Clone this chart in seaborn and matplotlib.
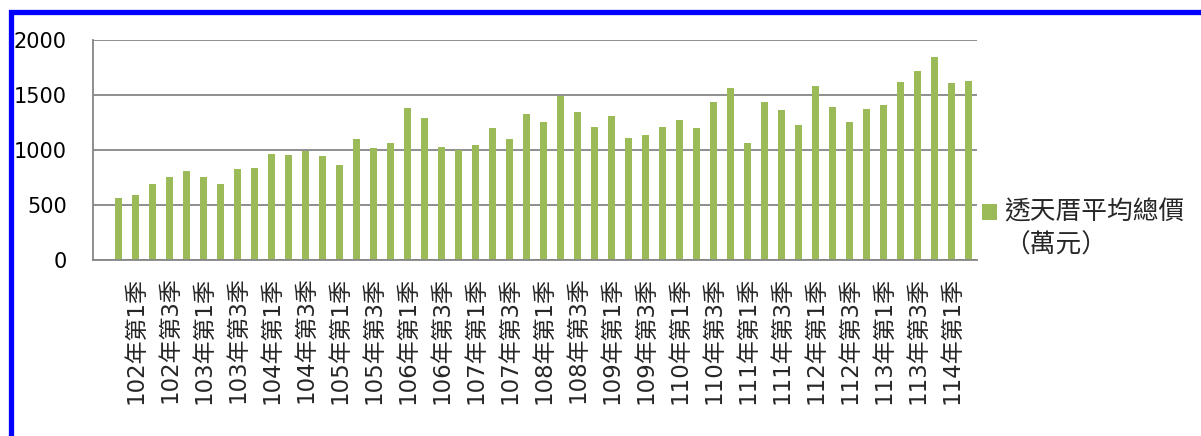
import numpy as np
import pandas as pd
import matplotlib
matplotlib.use("Agg")
import matplotlib.pyplot as plt
import seaborn as sns
from matplotlib.lines import Line2D
from matplotlib.patches import Rectangle
from matplotlib.legend_handler import HandlerPatch

# ---------------- data ----------------
quarters = [
    "101年第4季",
    "102年第1季", "102年第2季", "102年第3季", "102年第4季",
    "103年第1季", "103年第2季", "103年第3季", "103年第4季",
    "104年第1季", "104年第2季", "104年第3季", "104年第4季",
    "105年第1季", "105年第2季", "105年第3季", "105年第4季",
    "106年第1季", "106年第2季", "106年第3季", "106年第4季",
    "107年第1季", "107年第2季", "107年第3季", "107年第4季",
    "108年第1季", "108年第2季", "108年第3季", "108年第4季",
    "109年第1季", "109年第2季", "109年第3季", "109年第4季",
    "110年第1季", "110年第2季", "110年第3季", "110年第4季",
    "111年第1季", "111年第2季", "111年第3季", "111年第4季",
    "112年第1季", "112年第2季", "112年第3季", "112年第4季",
    "113年第1季", "113年第2季", "113年第3季", "113年第4季",
    "114年第1季", "114年第2季",
]
avg_price = [
    561, 588, 694, 755, 809, 755, 694, 827, 836, 961,
    955, 988, 945, 864, 1103, 1018, 1067, 1382, 1294, 1024,
    1003, 1042, 1200, 1103, 1330, 1255, 1488, 1342, 1206, 1309,
    1109, 1133, 1209, 1273, 1200, 1433, 1564, 1061, 1439, 1364,
    1224, 1582, 1388, 1258, 1373, 1409, 1615, 1721, 1848, 1606, 1630,
]
category_order = [""] + quarters          # first slot is empty on the axis
y_ticks = [0, 500, 1000, 1500, 2000]
series_name = "透天厝平均總價\n（萬元）"

# ---------------- style ----------------
sns.set_style("white")
plt.rcParams["font.family"] = ["DejaVu Sans", "Noto Sans CJK TC"]

W, H = 1201, 436
fig = plt.figure(figsize=(W / 100, H / 100), dpi=100)
fig.patch.set_facecolor("white")

left, right, top, bottom = 93, 977, 40, 260
ax = fig.add_axes([left / W, (H - bottom) / H, (right - left) / W, (bottom - top) / H])

df = pd.DataFrame({"quarter": quarters, "value": avg_price})
bar_color = "#9BBB59"
grey = "#868686"

sns.barplot(data=df, x="quarter", y="value", order=category_order,
            color=bar_color, saturation=1, width=0.42, linewidth=0, ax=ax)

ax.set_xlim(-0.5, len(category_order) - 0.5)
ax.set_ylim(0, 2000)
ax.set_xlabel("")
ax.set_ylabel("")

# y axis
ax.set_yticks(y_ticks)
ax.set_yticklabels([str(v) for v in y_ticks])
ax.yaxis.grid(True, color=grey, lw=1.3, ls="-")
ax.xaxis.grid(False)
ax.set_axisbelow(True)
ax.tick_params(axis="y", length=5.8, width=1.3, color=grey, pad=13,
               labelsize=15, labelcolor="black")

# x axis: tick marks at category boundaries, labels on every other slot
major_pos = list(range(0, len(category_order), 2))
ax.set_xticks(major_pos)
ax.set_xticklabels([category_order[i] for i in major_pos], rotation=90,
                   va="top", ha="center")
ax.set_xticks(np.arange(-0.5, len(category_order), 1.0), minor=True)
ax.tick_params(axis="x", which="major", length=0, pad=12, labelsize=16.5)
ax.tick_params(axis="x", which="minor", length=5.8, width=1.3, color=grey)

for s in ["top", "right"]:
    ax.spines[s].set_visible(False)
for s in ["left", "bottom"]:
    ax.spines[s].set_color(grey)
    ax.spines[s].set_linewidth(1.3)

# legend (square aligned with first line of the wrapped label)
fs = 18.5


def square_top(legend, orig_handle, xdescent, ydescent, width, height, fontsize):
    return Rectangle((-xdescent, -ydescent + 0.68 * fontsize), width, height)


handle = Rectangle((0, 0), 1, 1, facecolor=bar_color, edgecolor="none")
fig.legend(handles=[handle], labels=[series_name], loc="center left",
           bbox_to_anchor=(982 / W, 1 - 229 / H), frameon=False, fontsize=fs,
           handlelength=0.58, handleheight=0.58, handletextpad=0.3,
           borderpad=0, borderaxespad=0,
           handler_map={Rectangle: HandlerPatch(patch_func=square_top)})
for t in fig.legends[0].get_texts():
    t.set_linespacing(1.35)

# blue frame (top and left edges visible)
frame = Line2D([1.01, 10.5 / W, 10.5 / W], [1 - 12.5 / H, 1 - 12.5 / H, -0.01],
               transform=fig.transFigure, color="#0000FF", lw=3.8,
               solid_joinstyle="miter", solid_capstyle="butt")
fig.add_artist(frame)

fig.savefig("out.png", dpi=100, facecolor="white")
